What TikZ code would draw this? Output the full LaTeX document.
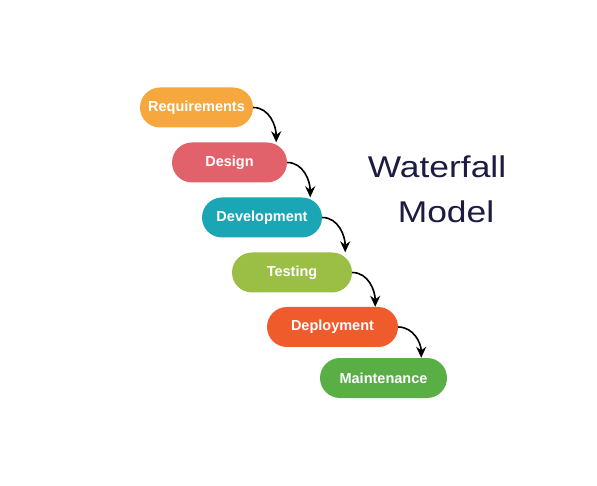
\documentclass[tikz,border=0pt]{standalone}
\usepackage{fontspec}
\setmainfont{Liberation Sans}
\newfontfamily\titlefont[FakeStretch=1.18]{Liberation Sans}
\usepackage{xcolor}
\usetikzlibrary{arrows.meta}

\definecolor{reqcol}{HTML}{F6A83E}
\definecolor{descol}{HTML}{E2626B}
\definecolor{devcol}{HTML}{1BA6B6}
\definecolor{tstcol}{HTML}{9BBE45}
\definecolor{dplcol}{HTML}{EF5B2A}
\definecolor{mntcol}{HTML}{5AAE46}
\definecolor{titlecol}{HTML}{1C1C40}

\tikzset{phase/.style={rounded corners=20pt, minimum height=40pt, inner sep=0pt, text=white, font=\fontsize{14.5}{16}\selectfont\bfseries}}

\begin{document}
\begin{tikzpicture}[x=1pt, y=1pt, >={Stealth[length=11pt,width=10pt]}]
\fill [white] (0, 0) rectangle (597, 485);
\useasboundingbox (0, 0) rectangle (597, 485);

\node [phase, fill=reqcol, minimum width=113pt] (req) at (196.5, 377.5) {Requirements};
\node [phase, fill=descol, minimum width=115pt] (des) at (229.5, 322.5) {Design};
\node [phase, fill=devcol, minimum width=120pt] (dev) at (262, 267.5) {Development};
\node [phase, fill=tstcol, minimum width=120pt] (tst) at (292, 212.5) {Testing};
\node [phase, fill=dplcol, minimum width=131pt] (dpl) at (332.5, 158) {Deployment};
\node [phase, fill=mntcol, minimum width=127pt] (mnt) at (383.5, 107) {Maintenance};

\foreach \a/\b in {req/des, des/dev, dev/tst, tst/dpl, dpl/mnt}
\draw [->, line width=1.6pt] (\a.east) to [out=0, in=90] ([xshift=23pt]\a.east |- \b.north);

\node [anchor=base, text=titlecol, font=\titlefont\fontsize{30}{34}\selectfont] (wf) at (437, 307) {Waterfall};
\node [anchor=base, text=titlecol, font=\titlefont\fontsize{30}{34}\selectfont] (mdl) at (446, 262) {Model};
\end{tikzpicture}
\end{document}
